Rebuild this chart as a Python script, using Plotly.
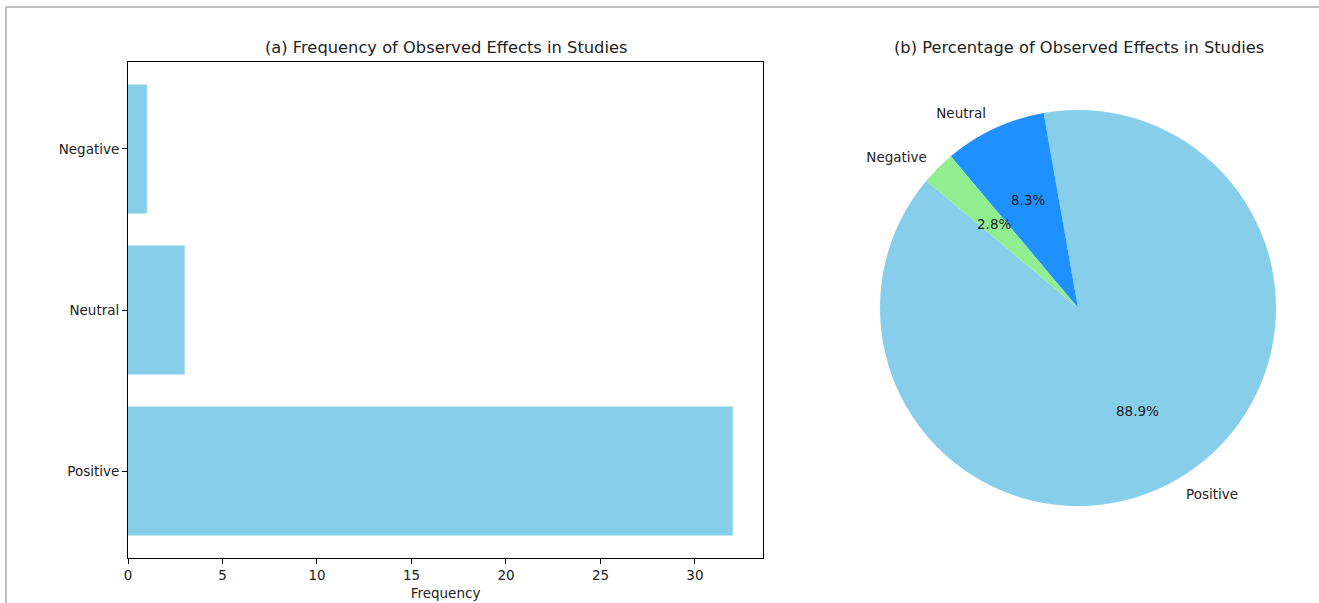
import math
import plotly.graph_objects as go

# Observed effects across the reviewed studies
categories = ["Positive", "Neutral", "Negative"]
frequencies = [32, 3, 1]
slice_colors = ["#87CEEB", "#1E90FF", "#90EE90"]
x_ticks = [0, 5, 10, 15, 20, 25, 30]

W, H = 1319, 603
FONT = "DejaVu Sans"
TEXT = "#222222"


def px_x(v):
    return v / W


def px_y(v):
    return 1 - v / H


def square_domain(cx, cy, r):
    return dict(x=[px_x(cx - r), px_x(cx + r)], y=[px_y(cy + r), px_y(cy - r)])


fig = go.Figure()

# (a) horizontal bar chart of frequencies
fig.add_trace(go.Bar(
    x=frequencies,
    y=categories,
    orientation="h",
    width=0.8,
    marker=dict(color="#87CEEB", line=dict(width=0)),
    xaxis="x",
    yaxis="y",
    showlegend=False,
    hoverinfo="x+y",
))

# (b) pie of percentages, first wedge starting at START_DEG and running counterclockwise
CX, CY, R = 1078, 308, 198
START_DEG = 140
total = sum(frequencies)
fractions = [v / total for v in frequencies]
rotation = (90 - START_DEG - 360 * fractions[0]) % 360
if rotation > 180:
    rotation -= 360

pie_common = dict(
    labels=categories,
    values=frequencies,
    sort=False,
    direction="counterclockwise",
    rotation=rotation,
    showlegend=False,
)

# coloured wedges
fig.add_trace(go.Pie(
    marker=dict(colors=slice_colors, line=dict(width=0)),
    domain=square_domain(CX, CY, R),
    textinfo="none",
    **pie_common,
))
# category names outside the wedges
fig.add_trace(go.Pie(
    marker=dict(colors=["rgba(0,0,0,0)"] * 3, line=dict(width=0)),
    domain=square_domain(CX, CY, R + 10),
    textinfo="label",
    textposition="outside",
    outsidetextfont=dict(family=FONT, size=13.5, color=TEXT),
    hoverinfo="skip",
    **pie_common,
))

# percentage labels at 60% of the radius, on each wedge's bisector
pct_annotations = []
angle = START_DEG
for frac in fractions:
    mid = math.radians(angle + 180 * frac)
    angle += 360 * frac
    pct_annotations.append(dict(
        text=f"{frac * 100:.1f}%",
        x=px_x(CX + 0.6 * R * math.cos(mid)),
        y=px_y(CY - 0.6 * R * math.sin(mid)),
        xref="paper", yref="paper", showarrow=False,
        xanchor="center", yanchor="middle",
        font=dict(family=FONT, size=13.5, color=TEXT),
    ))

axis_common = dict(
    showline=True, linecolor="black", linewidth=1, mirror=True,
    ticks="outside", ticklen=5, tickwidth=1, tickcolor="black",
    showgrid=False, zeroline=False, automargin=False,
    tickfont=dict(family=FONT, size=13.5, color=TEXT),
)

fig.update_layout(
    width=W, height=H,
    margin=dict(l=0, r=0, t=0, b=0),
    paper_bgcolor="white",
    plot_bgcolor="white",
    font=dict(family=FONT, size=13, color=TEXT),
    xaxis=dict(
        domain=[px_x(128), px_x(763)],
        range=[0, 33.6],
        tickvals=x_ticks,
        title=dict(text="Frequency", standoff=6,
                   font=dict(family=FONT, size=13.5, color=TEXT)),
        **axis_common,
    ),
    yaxis=dict(
        domain=[px_y(558), px_y(62)],
        range=[-0.54, 2.54],
        categoryorder="array",
        categoryarray=categories,
        **axis_common,
    ),
    annotations=[
        dict(text="(a) Frequency of Observed Effects in Studies",
             x=px_x(445.5), y=px_y(48), xref="paper", yref="paper",
             showarrow=False, xanchor="center", yanchor="middle",
             font=dict(family=FONT, size=16.3, color=TEXT)),
        dict(text="(b) Percentage of Observed Effects in Studies",
             x=px_x(1079), y=px_y(48), xref="paper", yref="paper",
             showarrow=False, xanchor="center", yanchor="middle",
             font=dict(family=FONT, size=16.3, color=TEXT)),
    ] + pct_annotations,
    shapes=[
        dict(type="line", xref="paper", yref="paper",
             x0=px_x(6), x1=1, y0=px_y(7), y1=px_y(7),
             line=dict(color="#aaaaaa", width=1.5)),
        dict(type="line", xref="paper", yref="paper",
             x0=px_x(6), x1=px_x(6), y0=px_y(7), y1=0,
             line=dict(color="#aaaaaa", width=1.5)),
    ],
)

fig.write_html("out.html")
